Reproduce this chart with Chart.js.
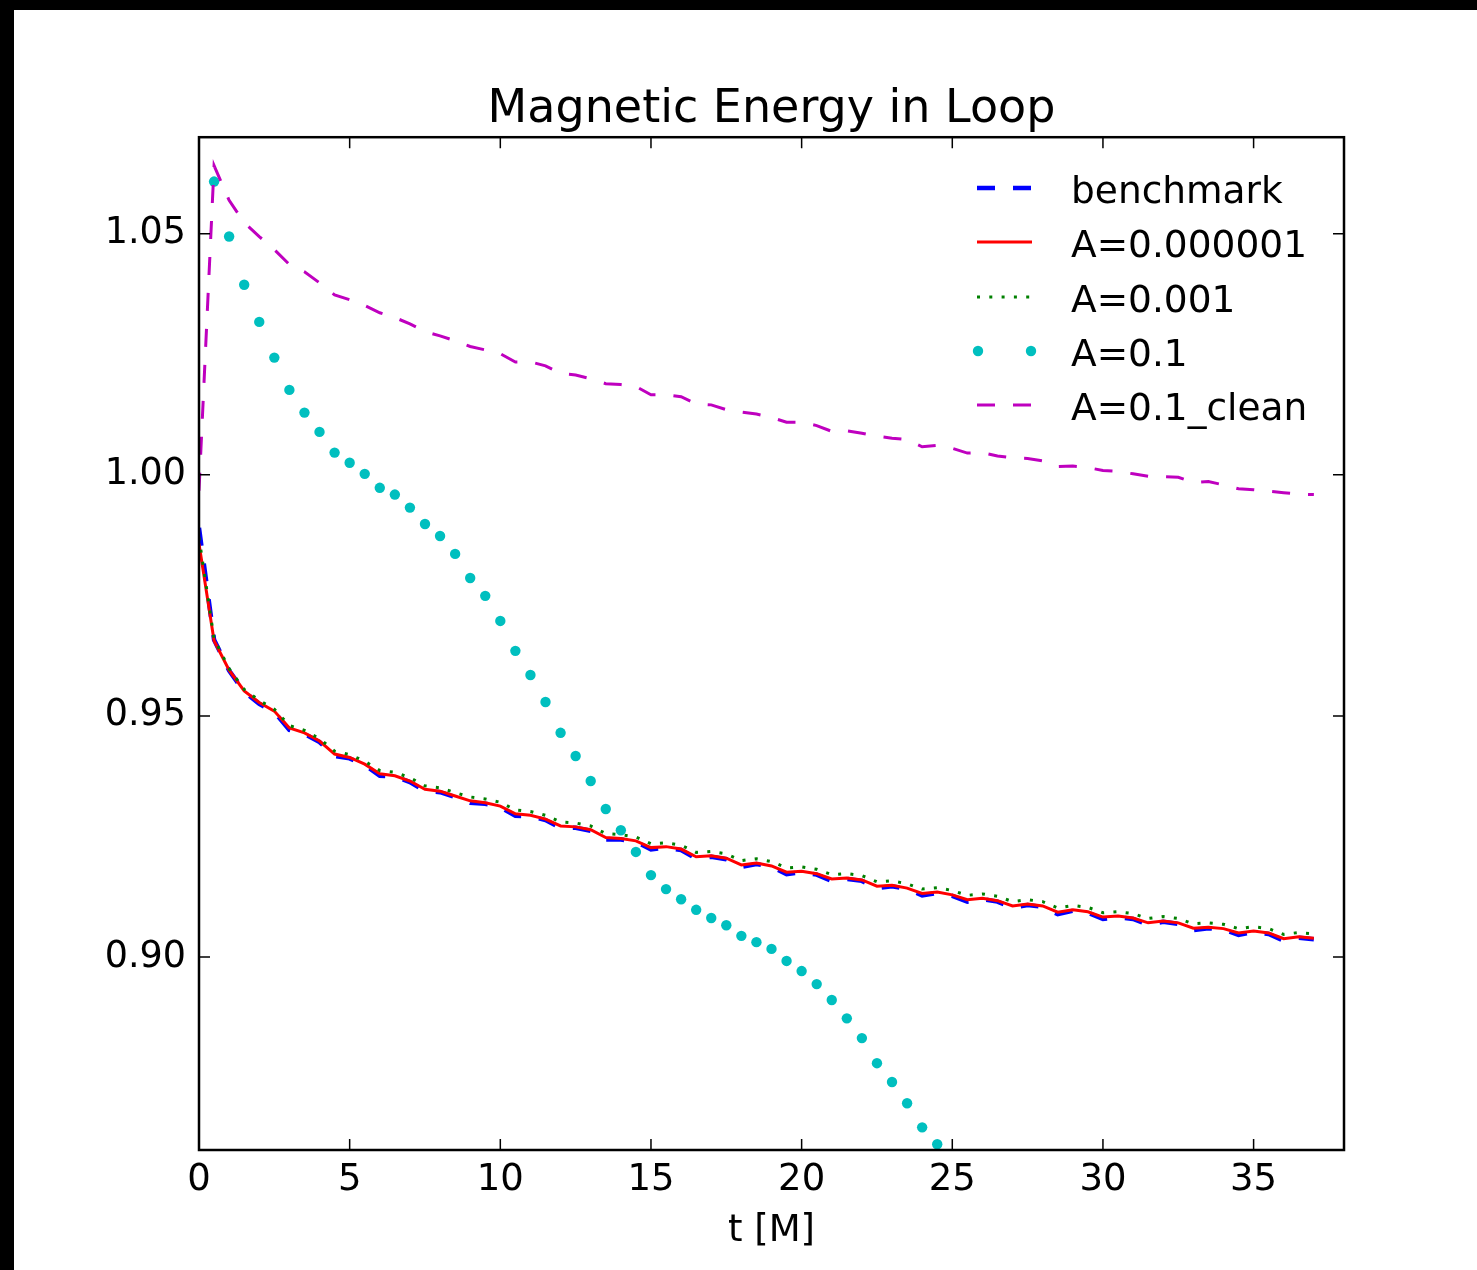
<!DOCTYPE html>
<html>
<head>
<meta charset="utf-8">
<script src="https://cdn.jsdelivr.net/npm/chart.js@4.4.0/dist/chart.umd.min.js"></script>
<style>
  html, body { margin: 0; padding: 0; background: #000; }
  #sheet { position: absolute; left: 14px; top: 10px; width: 1463px; height: 1260px; background: #fff; }
  #chart { position: absolute; left: 0; top: 0; }
</style>
</head>
<body>
<div id="sheet"></div>
<canvas id="chart" width="1477" height="1270"></canvas>
<script>
// time axis, t [M]
const tM = [0, 0.5, 1, 1.5, 2, 2.5, 3, 3.5, 4, 4.5, 5, 5.5, 6, 6.5, 7, 7.5, 8, 8.5, 9, 9.5,
  10, 10.5, 11, 11.5, 12, 12.5, 13, 13.5, 14, 14.5, 15, 15.5, 16, 16.5, 17, 17.5, 18, 18.5, 19, 19.5,
  20, 20.5, 21, 21.5, 22, 22.5, 23, 23.5, 24, 24.5, 25, 25.5, 26, 26.5, 27, 27.5, 28, 28.5, 29, 29.5,
  30, 30.5, 31, 31.5, 32, 32.5, 33, 33.5, 34, 34.5, 35, 35.5, 36, 36.5, 37]

const benchmark = [0.9890, 0.9658, 0.9594, 0.9550, 0.9525, 0.9508, 0.9471, 0.9463, 0.9446, 0.9417,
  0.9412, 0.9398, 0.9376, 0.9374, 0.9363, 0.9344, 0.9342, 0.9332, 0.9320, 0.9318,
  0.9311, 0.9293, 0.9292, 0.9284, 0.9268, 0.9268, 0.9262, 0.9244, 0.9244, 0.9239,
  0.9223, 0.9227, 0.9222, 0.9204, 0.9208, 0.9203, 0.9187, 0.9193, 0.9187, 0.9172,
  0.9176, 0.9171, 0.9158, 0.9162, 0.9158, 0.9143, 0.9147, 0.9141, 0.9128, 0.9133,
  0.9127, 0.9115, 0.9120, 0.9115, 0.9102, 0.9108, 0.9104, 0.9089, 0.9096, 0.9092,
  0.9079, 0.9083, 0.9079, 0.9067, 0.9073, 0.9069, 0.9056, 0.9060, 0.9057, 0.9046,
  0.9052, 0.9048, 0.9034, 0.9040, 0.9037]

const a000001 = [0.9857, 0.9656, 0.9595, 0.9552, 0.9528, 0.9510, 0.9475, 0.9465, 0.9448, 0.9421,
  0.9414, 0.9400, 0.9380, 0.9376, 0.9365, 0.9348, 0.9344, 0.9334, 0.9324, 0.9320,
  0.9313, 0.9297, 0.9294, 0.9286, 0.9272, 0.9270, 0.9264, 0.9248, 0.9246, 0.9241,
  0.9227, 0.9229, 0.9224, 0.9208, 0.9210, 0.9205, 0.9191, 0.9195, 0.9189, 0.9176,
  0.9178, 0.9173, 0.9162, 0.9164, 0.9160, 0.9147, 0.9149, 0.9143, 0.9132, 0.9135,
  0.9129, 0.9119, 0.9122, 0.9117, 0.9106, 0.9110, 0.9106, 0.9093, 0.9098, 0.9094,
  0.9083, 0.9085, 0.9081, 0.9071, 0.9075, 0.9071, 0.9060, 0.9062, 0.9059, 0.9050,
  0.9054, 0.9050, 0.9038, 0.9042, 0.9039]

const a001 = [0.9870, 0.9660, 0.9598, 0.9555, 0.9532, 0.9514, 0.9480, 0.9470, 0.9453, 0.9427,
  0.9420, 0.9406, 0.9387, 0.9383, 0.9372, 0.9355, 0.9351, 0.9341, 0.9332, 0.9328,
  0.9321, 0.9305, 0.9302, 0.9294, 0.9280, 0.9278, 0.9272, 0.9256, 0.9254, 0.9249,
  0.9235, 0.9237, 0.9232, 0.9217, 0.9219, 0.9214, 0.9200, 0.9204, 0.9198, 0.9185,
  0.9187, 0.9182, 0.9171, 0.9173, 0.9169, 0.9156, 0.9158, 0.9152, 0.9141, 0.9144,
  0.9138, 0.9128, 0.9131, 0.9126, 0.9115, 0.9119, 0.9115, 0.9102, 0.9107, 0.9103,
  0.9092, 0.9094, 0.9090, 0.9080, 0.9084, 0.9080, 0.9069, 0.9071, 0.9068, 0.9059,
  0.9063, 0.9059, 0.9047, 0.9051, 0.9048]

const a01Clean = [0.9967, 1.0641, 1.0569, 1.0523, 1.0494, 1.0467, 1.0436, 1.0421, 1.0398, 1.0373,
  1.0363, 1.0351, 1.0336, 1.0326, 1.0313, 1.0297, 1.0288, 1.0278, 1.0266, 1.0259,
  1.0251, 1.0234, 1.0234, 1.0226, 1.0210, 1.0207, 1.0199, 1.0189, 1.0187, 1.0183,
  1.0166, 1.0166, 1.0162, 1.0147, 1.0145, 1.0135, 1.0130, 1.0126, 1.0119, 1.0109,
  1.0109, 1.0102, 1.0090, 1.0091, 1.0086, 1.0080, 1.0076, 1.0073, 1.0058, 1.0061,
  1.0055, 1.0045, 1.0046, 1.0039, 1.0035, 1.0034, 1.0029, 1.0017, 1.0018, 1.0015,
  1.0009, 1.0007, 1.0002, 0.9997, 0.9996, 0.9995, 0.9984, 0.9986, 0.9979, 0.9971,
  0.9969, 0.9966, 0.9963, 0.9960, 0.9959]

// A=0.1 run, plotted as dots
const tA01 = [0.5, 1, 1.5, 2, 2.5, 3, 3.5, 4, 4.5, 5, 5.5, 6, 6.5, 7, 7.5, 8, 8.5, 9, 9.5, 10,
  10.5, 11, 11.5, 12, 12.5, 13, 13.5, 14, 14.5, 15, 15.5, 16, 16.5, 17, 17.5, 18, 18.5, 19, 19.5, 20,
  20.5, 21, 21.5, 22, 22.5, 23, 23.5, 24, 24.5]
const a01 = [1.0608, 1.0494, 1.0394, 1.0317, 1.0243, 1.0176, 1.0129, 1.0089, 1.0046, 1.0025,
  1.0002, 0.9973, 0.9959, 0.9932, 0.9898, 0.9873, 0.9836, 0.9786, 0.9749, 0.9697,
  0.9635, 0.9585, 0.9529, 0.9465, 0.9417, 0.9365, 0.9307, 0.9263, 0.9218, 0.9170,
  0.9141, 0.9120, 0.9098, 0.9081, 0.9066, 0.9044, 0.9031, 0.9017, 0.8992, 0.8971,
  0.8944, 0.8911, 0.8873, 0.8832, 0.8780, 0.8741, 0.8697, 0.8647, 0.8612]

const xTicks = [0, 5, 10, 15, 20, 25, 30, 35]
const yTicks = [0.90, 0.95, 1.00, 1.05]

const pts = (xs, ys) => xs.map((x, i) => ({x, y: ys[i]}))

Chart.defaults.font.family = 'DejaVu Sans'
Chart.defaults.color = '#000'

const datasets = [
  {label: 'benchmark', data: pts(tM, benchmark), borderColor: '#0000ff', borderWidth: 4.5,
    borderDash: [18, 18], pointRadius: 0, order: 5},
  {label: 'A=0.000001', data: pts(tM, a000001), borderColor: '#ff0000', borderWidth: 3,
    pointRadius: 0, order: 4},
  {label: 'A=0.001', data: pts(tM, a001), borderColor: '#008000', borderWidth: 3,
    borderDash: [3, 9.3], pointRadius: 0, order: 3},
  {label: 'A=0.1', data: pts(tA01, a01), showLine: false, borderColor: '#00bfbf',
    backgroundColor: '#00bfbf', pointRadius: 5.2, pointBorderWidth: 0, order: 2, clip: 0},
  {label: 'A=0.1_clean', data: pts(tM, a01Clean), borderColor: '#bf00bf', borderWidth: 3,
    borderDash: [18, 18], pointRadius: 0, order: 1}
]

// inward ticks on all four sides + frame
const frame = {
  id: 'frame',
  afterDatasetsDraw(chart) {
    const {ctx, chartArea: a, scales: {x, y}} = chart
    const L = 11
    ctx.save()
    ctx.strokeStyle = '#000'
    ctx.lineWidth = 1.5
    ctx.beginPath()
    xTicks.forEach(v => {
      const px = x.getPixelForValue(v)
      ctx.moveTo(px, a.bottom); ctx.lineTo(px, a.bottom - L)
      ctx.moveTo(px, a.top); ctx.lineTo(px, a.top + L)
    })
    yTicks.forEach(v => {
      const py = y.getPixelForValue(v)
      ctx.moveTo(a.left, py); ctx.lineTo(a.left + L, py)
      ctx.moveTo(a.right, py); ctx.lineTo(a.right - L, py)
    })
    ctx.stroke()
    ctx.lineWidth = 2.5
    ctx.strokeRect(a.left, a.top, a.right - a.left, a.bottom - a.top)
    ctx.restore()
  }
}

// legend drawn inside the axes, top right
const inLegend = {
  id: 'inLegend',
  afterDraw(chart) {
    const ctx = chart.ctx
    const x0 = 977, x1 = 1032, tx = 1071
    const base = [203, 257, 312, 366, 420]
    ctx.save()
    ctx.font = '37.5px "DejaVu Sans"'
    ctx.textBaseline = 'alphabetic'
    ctx.textAlign = 'left'
    chart.data.datasets.forEach((ds, i) => {
      const ly = base[i] - 15
      ctx.strokeStyle = ds.borderColor
      ctx.fillStyle = ds.borderColor
      if (ds.showLine === false) {
        [x0 + 1, x1 - 1].forEach(px => {
          ctx.beginPath(); ctx.arc(px, ly, ds.pointRadius, 0, Math.PI * 2); ctx.fill()
        })
      } else {
        ctx.lineWidth = ds.borderWidth
        ctx.setLineDash(ds.borderDash || [])
        ctx.beginPath(); ctx.moveTo(x0, ly); ctx.lineTo(x1, ly); ctx.stroke()
      }
      ctx.setLineDash([])
      ctx.fillStyle = '#000'
      ctx.fillText(ds.label, tx, base[i])
    })
    ctx.restore()
  }
}

new Chart(document.getElementById('chart'), {
  type: 'line',
  data: {datasets},
  options: {
    responsive: false,
    animation: false,
    layout: {padding: {top: 10, left: 0, right: 133, bottom: 0}},
    elements: {line: {tension: 0}},
    plugins: {
      legend: {display: false},
      tooltip: {enabled: false},
      title: {display: true, fullSize: false, text: 'Magnetic Energy in Loop', color: '#000',
        font: {size: 46, weight: 'normal'}, padding: {top: 72, bottom: 0}}
    },
    scales: {
      x: {
        type: 'linear', min: 0, max: 38,
        grid: {display: false, drawTicks: false}, border: {display: false},
        afterFit: s => { s.height = 120 },
        afterBuildTicks: s => { s.ticks = xTicks.map(v => ({value: v})) },
        ticks: {font: {size: 37}, padding: 8, maxRotation: 0, callback: v => String(v)},
        title: {display: true, text: 't [M]', font: {size: 37}, padding: {top: 0, bottom: 16}}
      },
      y: {
        min: 0.86, max: 1.07,
        grid: {display: false, drawTicks: false}, border: {display: false},
        afterFit: s => { s.width = 199 },
        afterBuildTicks: s => { s.ticks = yTicks.map(v => ({value: v})) },
        ticks: {font: {size: 36.5}, padding: 13, callback: v => v.toFixed(2)}
      }
    }
  },
  plugins: [frame, inLegend]
})
</script>
</body>
</html>
